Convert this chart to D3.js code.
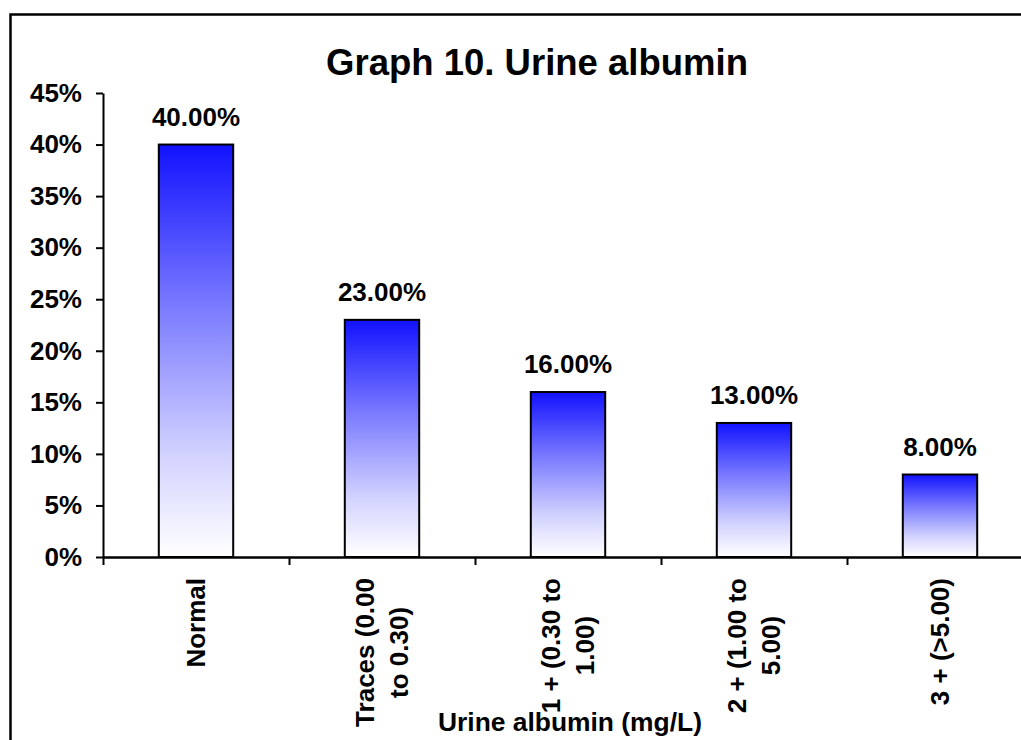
<!DOCTYPE html>
<html>
<head>
<meta charset="utf-8">
<script src="https://cdn.jsdelivr.net/npm/d3@7"></script>
<style>
  body { margin: 0; background: #fff; }
  svg { display: block; }
</style>
</head>
<body>
<div id="chart"></div>
<script>
var categories = ["Normal", "Traces", "1 +", "2 +", "3 +"];
var categoryLabels = [
    ["Normal"],
    ["Traces (0.00", "to 0.30)"],
    ["1 + (0.30 to", "1.00)"],
    ["2 + (1.00 to", "5.00)"],
    ["3 + (>5.00)"]
];
var values = [40, 23, 16, 13, 8];
var yTicks = [0, 5, 10, 15, 20, 25, 30, 35, 40, 45];

var canvasWidth = 1021;
var canvasHeight = 740;
var font = "'Liberation Sans', Arial, sans-serif";

var svg = d3.select("#chart").append("svg")
    .attr("width", canvasWidth)
    .attr("height", canvasHeight);

// gradient used by every bar
var grad = svg.append("defs").append("linearGradient")
    .attr("id", "barFill")
    .attr("x1", 0).attr("y1", 0)
    .attr("x2", 0).attr("y2", 1);
grad.append("stop").attr("offset", "0%").attr("stop-color", "#1212ff");
grad.append("stop").attr("offset", "40%").attr("stop-color", "#7c7cff");
grad.append("stop").attr("offset", "75%").attr("stop-color", "#d2d2ff");
grad.append("stop").attr("offset", "100%").attr("stop-color", "#ffffff");

// outer frame (cropped on right and bottom)
svg.append("rect")
    .attr("x", 10.5)
    .attr("y", 14.5)
    .attr("width", 1100)
    .attr("height", 900)
    .attr("fill", "none")
    .attr("stroke", "black")
    .attr("stroke-width", 2.5);

svg.append("text")
    .attr("x", 537)
    .attr("y", 75)
    .attr("text-anchor", "middle")
    .attr("font-family", font)
    .attr("font-weight", "bold")
    .attr("font-size", "36.5px")
    .text("Graph 10. Urine albumin");

var plotLeft = 103, plotRight = 1033, plotTop = 93, plotBottom = 557;

var xScale = d3.scaleBand()
    .domain(categories)
    .range([plotLeft, plotRight])
    .paddingInner(0.6)
    .paddingOuter(0.3);

var xEdges = d3.scaleLinear().domain([0, categories.length]).range([plotLeft, plotRight]);

var yScale = d3.scaleLinear().domain([0, 45]).range([plotBottom, plotTop]);

// bars
svg.append("g").selectAll("rect")
    .data(values)
    .enter().append("rect")
    .attr("x", function(d, i) { return xScale(categories[i]); })
    .attr("y", function(d) { return yScale(d); })
    .attr("width", xScale.bandwidth())
    .attr("height", function(d) { return yScale(0) - yScale(d); })
    .attr("fill", "url(#barFill)")
    .attr("stroke", "black")
    .attr("stroke-width", 2);

// value labels
svg.append("g").selectAll("text")
    .data(values)
    .enter().append("text")
    .attr("x", function(d, i) { return xScale(categories[i]) + xScale.bandwidth() / 2; })
    .attr("y", function(d) { return yScale(d) - 19; })
    .attr("text-anchor", "middle")
    .attr("font-family", font)
    .attr("font-weight", "bold")
    .attr("font-size", "26px")
    .text(function(d) { return d.toFixed(2) + "%"; });

// Y axis
var yAxis = svg.append("g")
    .attr("transform", "translate(" + plotLeft + ",0)")
    .call(d3.axisLeft(yScale)
        .tickValues(yTicks)
        .tickFormat(function(d) { return d + "%"; })
        .tickSizeInner(7)
        .tickSizeOuter(0)
        .tickPadding(14));
yAxis.select(".domain").attr("stroke-width", 2);
yAxis.selectAll(".tick line").attr("stroke-width", 2);
yAxis.selectAll("text")
    .attr("font-family", font)
    .attr("font-weight", "bold")
    .attr("font-size", "26px")
    .attr("fill", "black");

// X axis with ticks at category edges
var xAxis = svg.append("g")
    .attr("transform", "translate(0," + plotBottom + ")")
    .call(d3.axisBottom(xEdges)
        .tickValues(d3.range(categories.length + 1))
        .tickFormat("")
        .tickSizeInner(8)
        .tickSizeOuter(0));
xAxis.select(".domain").attr("stroke-width", 2.5);
xAxis.selectAll(".tick line").attr("stroke-width", 2);

// category labels, rotated, multi-line centred
var labelGap = 34;
categoryLabels.forEach(function(lines, i) {
    var g = svg.append("g")
        .attr("transform", "translate(" + (xScale(categories[i]) + xScale.bandwidth() / 2) + "," + (plotBottom + 21) + ") rotate(-90)");
    var texts = g.selectAll("text")
        .data(lines)
        .enter().append("text")
        .attr("text-anchor", "middle")
        .attr("dominant-baseline", "central")
        .attr("font-family", font)
        .attr("font-weight", "bold")
        .attr("font-size", "26px")
        .attr("y", function(d, j) { return (j - (lines.length - 1) / 2) * labelGap; })
        .text(function(d) { return d; });
    var maxLen = 0;
    texts.each(function() { maxLen = Math.max(maxLen, this.getComputedTextLength()); });
    texts.attr("x", -maxLen / 2);
});

svg.append("text")
    .attr("x", 570)
    .attr("y", 731)
    .attr("text-anchor", "middle")
    .attr("font-family", font)
    .attr("font-weight", "bold")
    .attr("font-size", "26.4px")
    .text("Urine albumin (mg/L)");
</script>
</body>
</html>
